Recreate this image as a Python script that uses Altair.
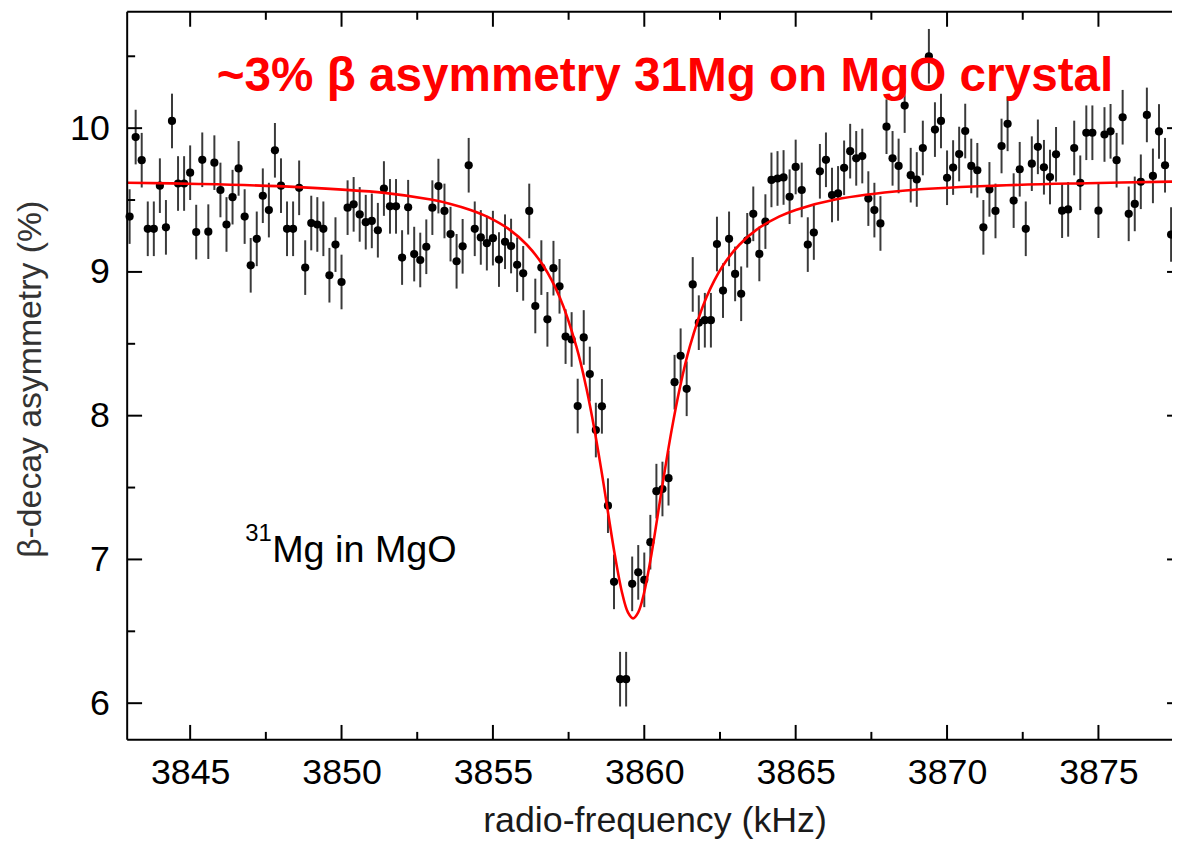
import altair as alt
import pandas as pd

# ---- data ----
freq = [
    3843.0, 3843.2, 3843.4, 3843.6, 3843.8, 3844.0, 3844.2, 3844.4, 3844.6, 3844.8,
    3845.0, 3845.2, 3845.4, 3845.6, 3845.8, 3846.0, 3846.2, 3846.4, 3846.6, 3846.8,
    3847.0, 3847.2, 3847.4, 3847.6, 3847.8, 3848.0, 3848.2, 3848.4, 3848.6, 3848.8,
    3849.0, 3849.2, 3849.4, 3849.6, 3849.8, 3850.0, 3850.2, 3850.4, 3850.6, 3850.8,
    3851.0, 3851.2, 3851.4, 3851.6, 3851.8, 3852.0, 3852.2, 3852.4, 3852.6, 3852.8,
    3853.0, 3853.2, 3853.4, 3853.6, 3853.8, 3854.0, 3854.2, 3854.4, 3854.6, 3854.8,
    3855.0, 3855.2, 3855.4, 3855.6, 3855.8, 3856.0, 3856.2, 3856.4, 3856.6, 3856.8,
    3857.0, 3857.2, 3857.4, 3857.6, 3857.8, 3858.0, 3858.2, 3858.4, 3858.6, 3858.8,
    3859.0, 3859.2, 3859.4, 3859.6, 3859.8, 3860.0, 3860.2, 3860.4, 3860.6, 3860.8,
    3861.0, 3861.2, 3861.4, 3861.6, 3861.8, 3862.0, 3862.2, 3862.4, 3862.6, 3862.8,
    3863.0, 3863.2, 3863.4, 3863.6, 3863.8, 3864.0, 3864.2, 3864.4, 3864.6, 3864.8,
    3865.0, 3865.2, 3865.4, 3865.6, 3865.8, 3866.0, 3866.2, 3866.4, 3866.6, 3866.8,
    3867.0, 3867.2, 3867.4, 3867.6, 3867.8, 3868.0, 3868.2, 3868.4, 3868.6, 3868.8,
    3869.0, 3869.2, 3869.4, 3869.6, 3869.8, 3870.0, 3870.2, 3870.4, 3870.6, 3870.8,
    3871.0, 3871.2, 3871.4, 3871.6, 3871.8, 3872.0, 3872.2, 3872.4, 3872.6, 3872.8,
    3873.0, 3873.2, 3873.4, 3873.6, 3873.8, 3874.0, 3874.2, 3874.4, 3874.6, 3874.8,
    3875.0, 3875.2, 3875.4, 3875.6, 3875.8, 3876.0, 3876.2, 3876.4, 3876.6, 3876.8,
    3877.0, 3877.2, 3877.4,
]
asym = [
    9.385, 9.938, 9.777, 9.30, 9.30, 9.60, 9.31, 10.05, 9.615, 9.615,
    9.69, 9.277, 9.78, 9.28, 9.76, 9.57, 9.33, 9.52, 9.72, 9.385,
    9.046, 9.23, 9.53, 9.43, 9.846, 9.60, 9.30, 9.30, 9.585, 9.03,
    9.34, 9.33, 9.30, 8.977, 9.19, 8.93, 9.447, 9.47, 9.40, 9.346,
    9.355, 9.29, 9.58, 9.456, 9.456, 9.10, 9.45, 9.124, 9.083, 9.175,
    9.447, 9.597, 9.424, 9.263, 9.074, 9.178, 9.742, 9.30, 9.24, 9.20,
    9.235, 9.086, 9.21, 9.18, 9.05, 8.99, 9.424, 8.763, 9.03, 8.67,
    9.026, 8.90, 8.55, 8.53, 8.067, 8.544, 8.29, 7.90, 8.065, 7.374,
    6.844, 6.167, 6.167, 6.83, 6.91, 6.858, 7.12, 7.475, 7.49, 7.565,
    8.233, 8.417, 8.187, 8.913, 8.647, 8.664, 8.664, 9.194, 8.87, 9.23,
    8.986, 8.848, 9.22, 9.404, 9.125, 9.35, 9.64, 9.65, 9.657, 9.523,
    9.73, 9.57, 9.19, 9.274, 9.70, 9.78, 9.535, 9.546, 9.724, 9.84,
    9.79, 9.806, 9.51, 9.43, 9.337, 10.01, 9.79, 9.737, 10.157, 9.673,
    9.643, 9.862, 10.50, 9.99, 10.05, 9.655, 9.726, 9.82, 9.98, 9.737,
    9.707, 9.31, 9.574, 9.424, 9.876, 10.03, 9.496, 9.714, 9.30, 9.753,
    9.87, 9.728, 9.66, 9.818, 9.426, 9.435, 9.862, 9.62, 9.968, 9.968,
    9.426, 9.956, 9.978, 9.777, 10.076, 9.404, 9.473, 9.627, 10.092, 9.668,
    9.977, 9.742, 9.26,
]
err_half = 0.19

# red fit curve
fit_freq = [3842.92, 3845.29, 3848.57, 3851.42, 3852.95, 3853.60, 3854.26, 3854.81,
            3855.57, 3856.12, 3856.67, 3857.21, 3857.76, 3858.09, 3858.36, 3858.64,
            3859.02, 3859.27, 3859.46, 3859.63, 3859.80, 3859.99, 3860.24, 3860.62,
            3860.90, 3861.17, 3861.50, 3862.05, 3862.59, 3863.14, 3863.69, 3864.45,
            3865.00, 3866.31, 3868.63, 3871.63, 3874.63, 3877.43]
fit_asym = [9.620, 9.612, 9.590, 9.550, 9.503, 9.473, 9.431, 9.384,
            9.291, 9.189, 9.041, 8.822, 8.478, 8.189, 7.896, 7.545,
            7.040, 6.765, 6.632, 6.590, 6.632, 6.765, 7.040, 7.545,
            7.896, 8.189, 8.478, 8.822, 9.041, 9.189, 9.291, 9.384,
            9.431, 9.503, 9.566, 9.600, 9.617, 9.628]

y_major = [6, 7, 8, 9, 10]
y_minor = [6.5, 7.5, 8.5, 9.5, 10.5]
x_major = [3845, 3850, 3855, 3860, 3865, 3870, 3875]
x_minor = [3847.5, 3852.5, 3857.5, 3862.5, 3867.5, 3872.5]

title_text = ["~3% β asymmetry 31Mg on MgO crystal"]
sup_text = ["31"]
ann_text = ["Mg in MgO"]

X_DOMAIN = [3842.92, 3877.43]
Y_DOMAIN = [5.745, 10.809]
W, H = 1052, 733
FONT = "Liberation Sans"

pts = pd.DataFrame({"f": freq, "a": asym})
pts["lo"] = pts["a"] - err_half
pts["hi"] = pts["a"] + err_half
fit = pd.DataFrame({"f": fit_freq, "a": fit_asym})

xs = alt.Scale(domain=X_DOMAIN, nice=False, zero=False)
ys = alt.Scale(domain=Y_DOMAIN, nice=False, zero=False)

x_axis = alt.Axis(values=x_major, format="d", ticks=False, tickSize=0, domain=False,
                  grid=False, labelFontSize=36, labelFont=FONT, labelColor="#000",
                  labelPadding=16, title="radio-frequency (kHz)", titleFontSize=36,
                  titleFont=FONT, titleFontWeight="normal", titleColor="#1a1a1a",
                  titleX=531, titleY=92, titleAlign="center", titleBaseline="alphabetic")
y_axis = alt.Axis(values=y_major, format="d", ticks=False, tickSize=0, domain=False,
                  grid=False, labelFontSize=36, labelFont=FONT, labelColor="#000",
                  labelPadding=18, title="β-decay asymmetry (%)", titleFontSize=34,
                  titleFont=FONT, titleFontWeight="normal", titleColor="#333",
                  titleAngle=270, titleX=-87, titleY=369.5, titleAlign="center",
                  titleBaseline="alphabetic")

bars = alt.Chart(pts).mark_rule(color="#3a3a3a", strokeWidth=2).encode(
    x=alt.X("f:Q", scale=xs, axis=x_axis),
    y=alt.Y("lo:Q", scale=ys, axis=y_axis),
    y2="hi:Q",
)
dots = alt.Chart(pts).mark_circle(color="#000", opacity=1, size=68).encode(
    x=alt.X("f:Q", scale=xs), y=alt.Y("a:Q", scale=ys)
)
curve = alt.Chart(fit).mark_line(color="#ff0000", strokeWidth=2.6,
                                 interpolate="catmull-rom").encode(
    x=alt.X("f:Q", scale=xs), y=alt.Y("a:Q", scale=ys)
)

def yticks(vals, x0, x1):
    return alt.Chart(pd.DataFrame({"a": vals})).mark_rule(color="#000", strokeWidth=2).encode(
        y=alt.Y("a:Q", scale=ys), x=alt.value(x0), x2=alt.value(x1))

def xticks(vals, y0, y1):
    return alt.Chart(pd.DataFrame({"f": vals})).mark_rule(color="#000", strokeWidth=2).encode(
        x=alt.X("f:Q", scale=xs), y=alt.value(y0), y2=alt.value(y1))

frame_df = pd.DataFrame({"k": [0]})
frame = [
    alt.Chart(frame_df).mark_rule(color="#000", strokeWidth=2).encode(
        x=alt.value(0), y=alt.value(0), y2=alt.value(H)),
    alt.Chart(frame_df).mark_rule(color="#000", strokeWidth=2).encode(
        x=alt.value(0), x2=alt.value(W), y=alt.value(0)),
    alt.Chart(frame_df).mark_rule(color="#000", strokeWidth=2).encode(
        x=alt.value(0), x2=alt.value(W), y=alt.value(H)),
]

ticks = [
    yticks(y_major, 0, 15), yticks(y_minor, 0, 8),
    yticks(y_major, W - 5, W),
    xticks(x_major, H - 15, H), xticks(x_minor, H - 8, H),
    xticks(x_major, 0, 15), xticks(x_minor, 0, 8),
]

title = alt.Chart(pd.DataFrame({"t": title_text})).mark_text(
    font=FONT, fontSize=48, fontWeight="bold", color="#ff0000",
    align="center", baseline="alphabetic").encode(
    x=alt.value(541.5), y=alt.value(80), text="t:N")
sup = alt.Chart(pd.DataFrame({"t": sup_text})).mark_text(
    font=FONT, fontSize=24, color="#000", align="left", baseline="alphabetic").encode(
    x=alt.value(119), y=alt.value(532.5), text="t:N")
ann = alt.Chart(pd.DataFrame({"t": ann_text})).mark_text(
    font=FONT, fontSize=38, color="#000", align="left", baseline="alphabetic").encode(
    x=alt.value(146), y=alt.value(554.3), text="t:N")

chart = alt.layer(bars, dots, curve, *frame, *ticks, title, sup, ann).properties(
    width=W, height=H,
    padding={"left": 120, "top": 1, "right": 0, "bottom": 104},
    autosize=alt.AutoSizeParams(type="none"),
).configure_view(stroke=None)

chart.save("out.html", embed_options={"renderer": "svg", "actions": False})
